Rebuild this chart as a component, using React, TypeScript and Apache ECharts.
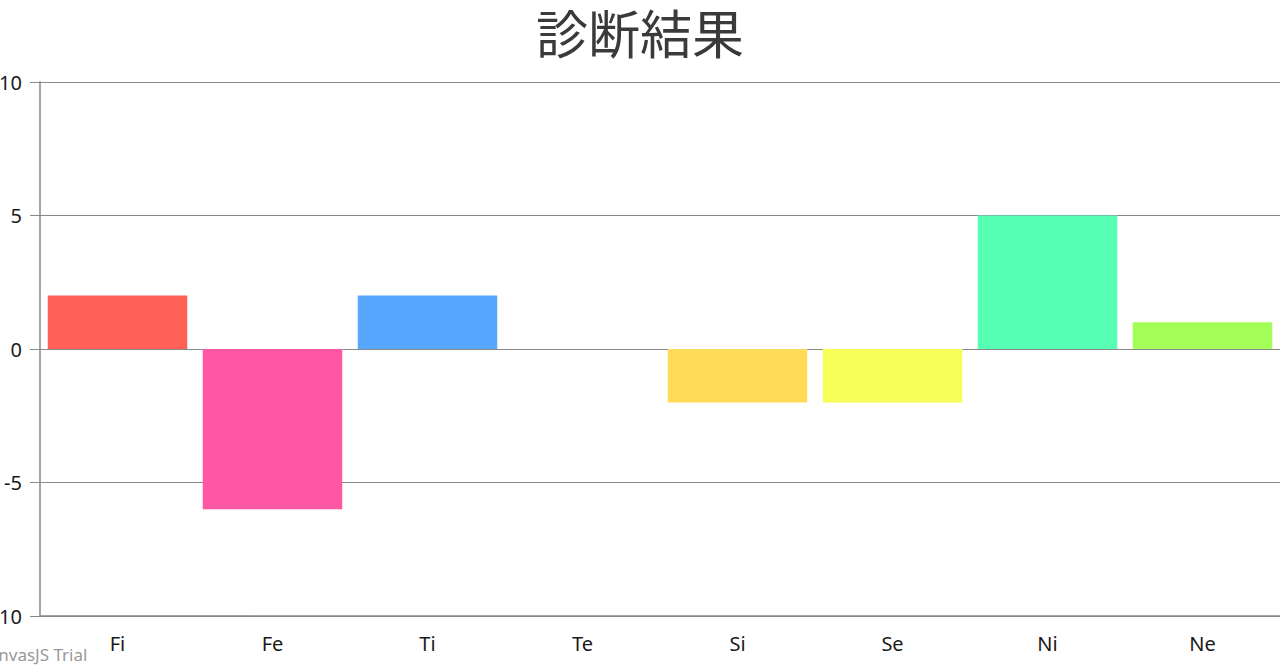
import { useEffect, useRef } from 'react'
import * as echarts from 'echarts'

const categories = ['Fi', 'Fe', 'Ti', 'Te', 'Si', 'Se', 'Ni', 'Ne']
const values = [2, -6, 2, 0, -2, -2, 5, 1]
const barColors = ['#FF6156', '#FF57A4', '#57A7FF', '#57FFA7', '#FFDB57', '#F5FF57', '#57FFB4', '#A3FF57']

const FONT = '"Noto Sans", "Noto Sans CJK JP", sans-serif'

export default function App() {
  const ref = useRef<HTMLDivElement>(null)

  useEffect(() => {
    if (!ref.current) return
    const chart = echarts.init(ref.current, null, { renderer: 'svg' })

    chart.setOption({
      animation: false,
      backgroundColor: '#fff',
      title: {
        text: '診断結果',
        left: 'center',
        top: 0,
        textStyle: {
          fontFamily: '"Noto Sans CJK JP", sans-serif',
          fontSize: 52,
          fontWeight: 'normal',
          color: '#3a3a3a',
        },
      },
      grid: { left: 40, right: 0, top: 82, bottom: 54, outerBoundsMode: 'none' },
      xAxis: {
        type: 'category',
        data: categories,
        axisLine: { onZero: false, lineStyle: { color: '#888', width: 1.5 } },
        axisTick: { alignWithLabel: true, length: 8, lineStyle: { color: '#888' } },
        axisLabel: { color: '#1a1a1a', fontSize: 20, fontFamily: FONT, margin: 17 },
        splitLine: { show: false },
      },
      yAxis: {
        type: 'value',
        min: -10,
        max: 10,
        interval: 5,
        axisLine: { show: true, lineStyle: { color: '#888', width: 1.5 } },
        axisTick: { show: true, length: 10, lineStyle: { color: '#888' } },
        axisLabel: { color: '#1a1a1a', fontSize: 20, fontFamily: FONT, margin: 18 },
        splitLine: { lineStyle: { color: '#888', width: 1 } },
      },
      series: [
        {
          type: 'bar',
          barWidth: '90%',
          data: values.map((v, i) => ({ value: v, itemStyle: { color: barColors[i] } })),
        },
      ],
      graphic: [
        {
          type: 'text',
          left: -22,
          top: 646,
          style: {
            text: 'CanvasJS Trial',
            fontSize: 17,
            fontFamily: FONT,
            fill: '#999',
          },
        },
      ],
    })

    return () => chart.dispose()
  }, [])

  return (
    <div
      ref={ref}
      style={{ position: 'fixed', left: 0, top: 0, width: 1280, height: 670 }}
    />
  )
}
